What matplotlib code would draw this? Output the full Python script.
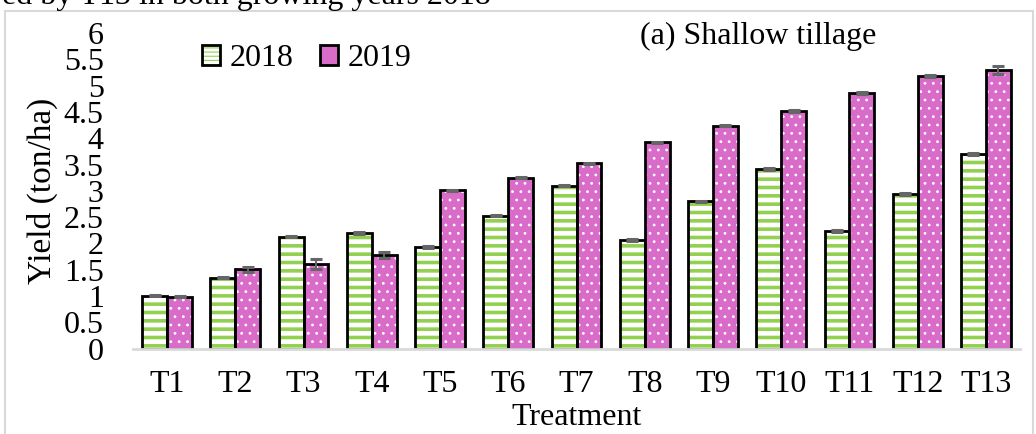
import matplotlib
matplotlib.use("Agg")
import numpy as np
import matplotlib.pyplot as plt
from matplotlib.patches import Patch, Rectangle
from matplotlib.legend_handler import HandlerTuple

plt.rcParams['font.family'] = ['Liberation Serif', 'DejaVu Serif']
plt.rcParams['font.size'] = 23

treatments = ['T1', 'T2', 'T3', 'T4', 'T5', 'T6', 'T7', 'T8', 'T9', 'T10', 'T11', 'T12', 'T13']
yield_2018 = [1.01, 1.35, 2.13, 2.20, 1.93, 2.53, 3.10, 2.07, 2.80, 3.41, 2.24, 2.94, 3.70]
yield_2019 = [0.99, 1.51, 1.61, 1.78, 3.01, 3.25, 3.52, 3.92, 4.24, 4.52, 4.86, 5.18, 5.30]
err_2018 = [0.015] * 13
err_2019 = [0.015, 0.05, 0.09, 0.05, 0.015, 0.015, 0.015, 0.015, 0.015, 0.015, 0.015, 0.015, 0.07]

green = '#92d050'
orchid = '#d96bc9'

fig = plt.figure(figsize=(10.36, 4.34), dpi=100)
W, H = 1036, 434
ax = fig.add_axes([133 / W, (H - 348.7) / H, (1020 - 133) / W, (348.7 - 33) / H])

x = np.arange(len(treatments))
w = 0.365

# 2018: white bars with green horizontal stripes
plt.rcParams['hatch.linewidth'] = 2.6
ax.bar(x - w / 2, yield_2018, w, color='white', edgecolor=green, hatch='--', linewidth=0)
leg_2018 = Patch(facecolor='white', edgecolor=green, hatch='----', linewidth=0)
# 2019: orchid bars with small white dots
plt.rcParams['hatch.linewidth'] = 0.8
ax.bar(x + w / 2, yield_2019, w, color=orchid, edgecolor='white', hatch='..', linewidth=0)

# black outlines and error bars
ax.bar(x - w / 2, yield_2018, w, fill=False, edgecolor='black', linewidth=2.0,
       yerr=err_2018, ecolor='#666666', capsize=4.5,
       error_kw=dict(elinewidth=1.5, capthick=2.2))
ax.bar(x + w / 2, yield_2019, w, fill=False, edgecolor='black', linewidth=2.0,
       yerr=err_2019, ecolor='#666666', capsize=4.5,
       error_kw=dict(elinewidth=1.5, capthick=2.2))

ax.set_xlim(-0.5, len(treatments) - 0.5)
ax.set_ylim(0, 6)
ax.set_yticks(np.arange(0, 6.01, 0.5))
ax.set_yticklabels(['0', '0.5', '1', '1.5', '2', '2.5', '3', '3.5', '4', '4.5', '5', '5.5', '6'])
ax.set_xticks(x)
ax.set_xticklabels(treatments)
ax.tick_params(axis='both', length=0)
ax.tick_params(axis='x', pad=15)
ax.tick_params(axis='y', pad=21)
for s in ['top', 'right', 'left']:
    ax.spines[s].set_visible(False)
ax.spines['bottom'].set_color('#d9d9d9')
ax.spines['bottom'].set_linewidth(2.0)

ax.set_xlabel('Treatment', labelpad=3)
ax.set_ylabel('Yield (ton/ha)', fontsize=24)
ax.yaxis.set_label_coords(-0.084, 0.5)
ax.text(0.705, 0.99, '(a) Shallow tillage', transform=ax.transAxes, ha='center', va='center')

outline_2018 = Patch(facecolor='none', edgecolor='black', linewidth=2.0)
leg_2019 = Patch(facecolor=orchid, edgecolor='black', linewidth=2.0)
ax.legend([(leg_2018, outline_2018), leg_2019], ['2018', '2019'], ncol=2, frameon=False,
          handler_map={tuple: HandlerTuple(ndivide=1, pad=0)},
          loc='center left', bbox_to_anchor=(202 / W, (H - 59) / H),
          bbox_transform=fig.transFigure, handlelength=0.55, handleheight=0.6,
          handletextpad=0.3, columnspacing=0.85, borderaxespad=0, borderpad=0)

# chart border and the caption line above it
fig.patches.append(Rectangle((5 / W, -0.05), 1028 / W, (H - 11) / H + 0.05,
                             transform=fig.transFigure, fill=False,
                             edgecolor='#d9d9d9', linewidth=1.5))
fig.text(2 / W, (H - 4) / H, 'ed by T13 in both growing years 2018', ha='left', va='baseline',
         fontsize=23)

fig.savefig('out.png', dpi=100)
